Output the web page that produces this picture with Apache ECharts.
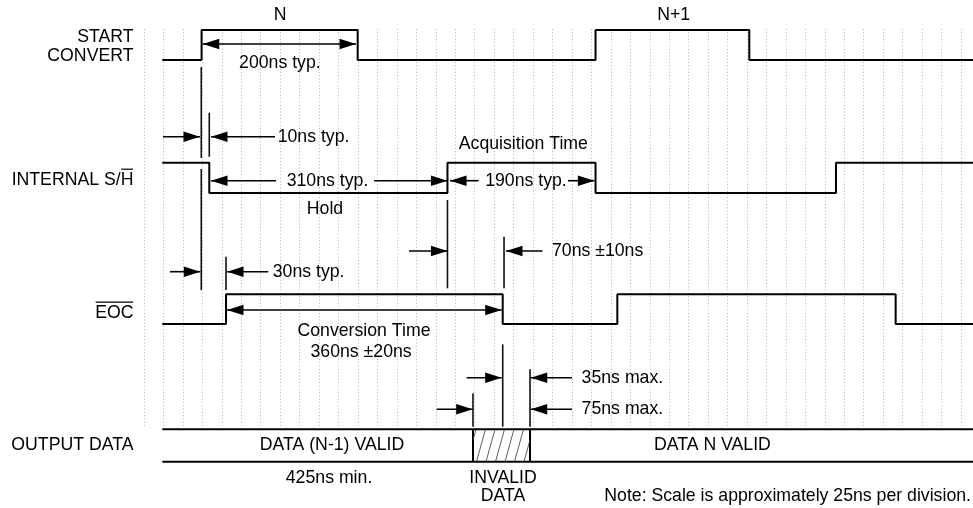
<!DOCTYPE html>
<html><head><meta charset="utf-8">
<script src="https://cdn.jsdelivr.net/npm/echarts@6/dist/echarts.min.js"></script>
<style>html,body{margin:0;padding:0;background:#fff}#c{width:973px;height:508px}</style>
</head><body><div id="c"></div>
<script>
// x: time in ns (grid divisions of 25 ns); y: vertical lane units (inverse axis)
const divisionNs = 25;
const divisionRange = [0, 1050];
const traceStart = 23.5, traceEnd = 1065.4;

const startConvertEdges = [74, 274.6, 580.3, 777.9];
const startConvertLevels = [1.0, 2.008];      // [high, low]
const sampleHoldEdges = [83.9, 390.0, 580.3, 889.3];
const sampleHoldLevels = [5.445, 6.459];
const eocEdges = [105.4, 461.0, 608.3, 966.0];
const eocLevels = [9.849, 10.843];
const outputBusLevels = [14.367, 15.451];
const invalidWindow = [422.8, 496.1];

// [time, fromLevel, toLevel]
const markerLines = [
  [73.6, 2.242, 5.287], [73.6, 5.656, 9.705],
  [83.9, 3.771, 5.245],
  [105.4, 8.59, 9.705],
  [390.0, 6.693, 9.648],
  [462.7, 7.921, 9.648],
  [461.0, 11.522, 14.279],
  [422.8, 13.162, 14.279],
  [496.1, 12.358, 14.279]
];

// [level, fromTime, toTime, headAtStart, headAtEnd]
const arrows = [
  [1.472, 75.5, 272.5, 1, 1],
  [4.575, 24.4, 72.0, 0, 1],
  [4.575, 86.1, 168.4, 1, 0],
  [6.047, 86.1, 169.7, 1, 0],
  [6.047, 295.6, 390.0, 0, 1],
  [6.047, 393.3, 430.0, 1, 0],
  [6.047, 544.9, 578.8, 0, 1],
  [8.40, 340.6, 390.0, 0, 1],
  [8.40, 465.2, 512.1, 1, 0],
  [9.092, 33.4, 72.4, 0, 1],
  [9.092, 106.7, 159.7, 1, 0],
  [10.374, 106.7, 459.7, 1, 1],
  [12.64, 414.7, 459.7, 0, 1],
  [12.64, 497.0, 550.0, 1, 0],
  [13.697, 376.2, 422.4, 0, 1],
  [13.697, 497.0, 550.0, 1, 0]
];

// [text, time, level, align, overline ('' | 'last' | 'all')]
const labels = [
  ['N', 174.8, 0.502, 'center', ''],
  ['N+1', 680.8, 0.502, 'center', ''],
  ['START', -13.5, 1.238, 'right', ''],
  ['CONVERT', -13.5, 1.891, 'right', ''],
  ['200ns typ.', 174.6, 2.108, 'center', ''],
  ['10ns typ.', 171.8, 4.575, 'left', ''],
  ['Acquisition Time', 487.5, 4.819, 'center', ''],
  ['INTERNAL S/H', -13.5, 6.024, 'right', 'last'],
  ['310ns typ.', 235.8, 6.047, 'center', ''],
  ['190ns typ.', 490.9, 6.047, 'center', ''],
  ['Hold', 232.6, 7.004, 'center', ''],
  ['70ns \u00b110ns', 524.3, 8.40, 'left', ''],
  ['30ns typ.', 165.4, 9.092, 'left', ''],
  ['EOC', -13.5, 10.475, 'right', 'all'],
  ['Conversion Time', 282.7, 11.077, 'center', ''],
  ['360ns \u00b120ns', 279.0, 11.78, 'center', ''],
  ['35ns max.', 562.4, 12.64, 'left', ''],
  ['75ns max.', 562.4, 13.697, 'left', ''],
  ['OUTPUT DATA', -13.5, 14.909, 'right', ''],
  ['DATA (N-1) VALID', 241.6, 14.909, 'center', ''],
  ['DATA N VALID', 730.5, 14.909, 'center', ''],
  ['425ns min.', 237.8, 15.996, 'center', ''],
  ['INVALID', 461.4, 15.996, 'center', ''],
  ['DATA', 461.4, 16.599, 'center', ''],
  ['Note: Scale is approximately 25ns per division.', 1062.8, 16.599, 'right', '']
];

const FONT_SIZE = 17.7;
const FONT_FAMILY = '"Liberation Sans", Arial, Helvetica, sans-serif';
const measureCtx = document.createElement('canvas').getContext('2d');
measureCtx.font = FONT_SIZE + 'px ' + FONT_FAMILY;

function stepPoints(edges, levels, startHigh) {
  let lvl = startHigh ? 0 : 1;
  const pts = [[traceStart, levels[lvl]]];
  edges.forEach(e => {
    pts.push([e, levels[lvl]]);
    lvl = 1 - lvl;
    pts.push([e, levels[lvl]]);
  });
  pts.push([traceEnd, levels[lvl]]);
  return pts;
}

const signalStyle = { color: '#000', width: 2 };
function signalSeries(data) {
  return {
    type: 'line', xAxisIndex: 1, yAxisIndex: 1, data: data,
    showSymbol: false, symbol: 'none', clip: false, silent: true,
    lineStyle: signalStyle, animation: false, z: 5
  };
}

const HEAD_LEN = 16.5, HEAD_HALF = 5.3;

const option = {
  animation: false,
  backgroundColor: '#fff',
  grid: [
    { left: 144, width: 817, top: 29, height: 399 },
    { left: 0, right: 0, top: 0, bottom: 0 }
  ],
  xAxis: [
    { type: 'value', gridIndex: 0, min: divisionRange[0], max: divisionRange[1], interval: divisionNs,
      axisLine: { show: false }, axisTick: { show: false }, axisLabel: { show: false },
      splitLine: { show: true, lineStyle: { color: '#b4b4b4', width: 1, type: [1, 2.3] } } },
    { type: 'value', gridIndex: 1, min: -185.07, max: traceEnd, show: false }
  ],
  yAxis: [
    { type: 'value', gridIndex: 0, min: 0, max: 1, show: false },
    { type: 'value', gridIndex: 1, min: 0, max: 17, inverse: true, show: false }
  ],
  series: [
    { type: 'line', xAxisIndex: 0, yAxisIndex: 0, data: [] },
    signalSeries(stepPoints(startConvertEdges, startConvertLevels, false)),
    signalSeries(stepPoints(sampleHoldEdges, sampleHoldLevels, true)),
    signalSeries(stepPoints(eocEdges, eocLevels, false)),
    signalSeries([[traceStart, outputBusLevels[0]], [traceEnd, outputBusLevels[0]]]),
    signalSeries([[traceStart, outputBusLevels[1]], [traceEnd, outputBusLevels[1]]]),
    {
      type: 'custom', xAxisIndex: 1, yAxisIndex: 1, clip: false, silent: true, z: 4,
      data: [[invalidWindow[0], invalidWindow[1], outputBusLevels[0], outputBusLevels[1]]],
      renderItem: function (params, api) {
        const a = api.coord([api.value(0), api.value(2)]);
        const b = api.coord([api.value(1), api.value(3)]);
        const x0 = a[0], x1 = b[0], top = a[1], bot = b[1], h = bot - top;
        const children = [
          { type: 'line', shape: { x1: x0, y1: top, x2: x0, y2: bot }, style: { stroke: '#000', lineWidth: 2 } },
          { type: 'line', shape: { x1: x1, y1: top, x2: x1, y2: bot }, style: { stroke: '#000', lineWidth: 2 } }
        ];
        const dx = 9, sp = 9.5;
        for (let s = x0 - dx + 3; s < x1; s += sp) {
          let sx = s, sy = bot, ex = s + dx, ey = top;
          if (sx < x0) { sy = bot - (x0 - sx) / dx * h; sx = x0; }
          if (ex > x1) { ey = top + (ex - x1) / dx * h; ex = x1; }
          if (ex - sx > 0.5) children.push({ type: 'line', shape: { x1: sx, y1: sy, x2: ex, y2: ey }, style: { stroke: '#333', lineWidth: 0.8 } });
        }
        return { type: 'group', children: children };
      }
    },
    {
      type: 'custom', xAxisIndex: 1, yAxisIndex: 1, clip: false, silent: true, z: 4,
      data: markerLines,
      renderItem: function (params, api) {
        const p1 = api.coord([api.value(0), api.value(1)]);
        const p2 = api.coord([api.value(0), api.value(2)]);
        return { type: 'line', shape: { x1: p1[0], y1: p1[1], x2: p2[0], y2: p2[1] }, style: { stroke: '#111', lineWidth: 1.6 } };
      }
    },
    {
      type: 'custom', xAxisIndex: 1, yAxisIndex: 1, clip: false, silent: true, z: 6,
      data: arrows,
      renderItem: function (params, api) {
        const p1 = api.coord([api.value(1), api.value(0)]);
        const p2 = api.coord([api.value(2), api.value(0)]);
        const y = p1[1];
        const children = [{ type: 'line', shape: { x1: p1[0], y1: y, x2: p2[0], y2: y }, style: { stroke: '#000', lineWidth: 1.6 } }];
        if (api.value(3)) children.push({ type: 'polygon', shape: { points: [[p1[0], y], [p1[0] + HEAD_LEN, y - HEAD_HALF], [p1[0] + HEAD_LEN, y + HEAD_HALF]] }, style: { fill: '#000' } });
        if (api.value(4)) children.push({ type: 'polygon', shape: { points: [[p2[0], y], [p2[0] - HEAD_LEN, y - HEAD_HALF], [p2[0] - HEAD_LEN, y + HEAD_HALF]] }, style: { fill: '#000' } });
        return { type: 'group', children: children };
      }
    },
    {
      type: 'custom', xAxisIndex: 1, yAxisIndex: 1, clip: false, silent: true, z: 7,
      data: labels.map(l => [l[1], l[2]]),
      renderItem: function (params, api) {
        const l = labels[params.dataIndex];
        const p = api.coord([api.value(0), api.value(1)]);
        const children = [{
          type: 'text', x: p[0], y: p[1],
          style: { text: l[0], fontSize: FONT_SIZE, fontFamily: FONT_FAMILY, fill: '#000',
                   textAlign: l[3], textVerticalAlign: 'middle', align: l[3], verticalAlign: 'middle' }
        }];
        if (l[4]) {
          const full = measureCtx.measureText(l[0]).width;
          const part = l[4] === 'all' ? full : measureCtx.measureText(l[0].slice(-1)).width;
          let right = p[0];
          if (l[3] === 'center') right = p[0] + full / 2;
          if (l[3] === 'left') right = p[0] + full;
          const oy = p[1] - 10.8;
          children.push({ type: 'line', shape: { x1: right - part + 0.5, y1: oy, x2: right - 0.5, y2: oy }, style: { stroke: '#000', lineWidth: 1.2 } });
        }
        return { type: 'group', children: children };
      }
    }
  ]
};

const chart = echarts.init(document.getElementById('c'), null, { renderer: 'canvas' });
chart.setOption(option);
</script>
</body></html>
